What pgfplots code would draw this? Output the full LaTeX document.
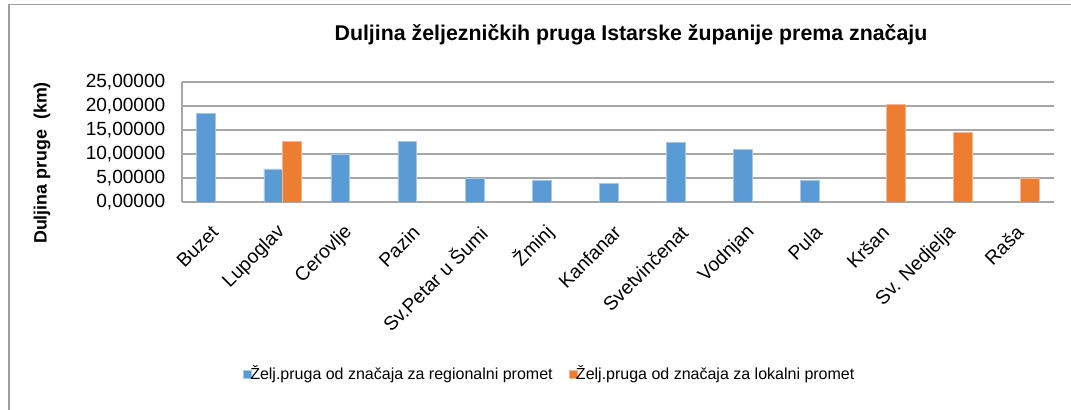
\documentclass[border=0pt]{standalone}
\usepackage{pgfplots}
\pgfplotsset{compat=1.18}
\usepackage{fontspec}
\setmainfont{Liberation Sans}
\definecolor{barblue}{HTML}{5B9BD5}
\definecolor{barorange}{HTML}{ED7D31}
\definecolor{gridgray}{HTML}{A6A6A6}
\definecolor{framegray}{HTML}{A0A0A0}

\begin{document}
\begin{tikzpicture}
% page = 1071 x 410 px at 0.75pt/px
\useasboundingbox (0pt,0pt) rectangle (803.25pt,307.5pt);
\draw[framegray,line width=1.1pt] (6.75pt,0pt) -- (6.75pt,304.1pt) -- (803.25pt,304.1pt);
\node[font=\fontsize{16}{19}\selectfont\bfseries] at (473.25pt,281.25pt) {Duljina željezničkih pruga Istarske županije prema značaju};
\node[font=\fontsize{13.4}{16}\selectfont\bfseries,rotate=90] at (31.5pt,185.25pt) {Duljina pruge~~(km)};
\begin{axis}[
  at={(136.5pt,156pt)},anchor=south west,
  scale only axis,width=654pt,height=90pt,
  ybar=0pt,bar width=0.28,
  xmin=-0.5,xmax=12.5,ymin=0,ymax=25,
  xtick={0,...,12},
  xticklabels={Buzet,Lupoglav,Cerovlje,Pazin,Sv.Petar u Šumi,Žminj,Kanfanar,Svetvinčenat,Vodnjan,Pula,Kršan,Sv. Nedjelja,Raša},
  ytick={0,5,10,15,20,25},
  axis x line*=bottom,axis y line*=left,
  axis line style={gridgray,line width=0.9pt,-},
  ymajorgrids,grid style={gridgray,line width=0.9pt},
  major tick length=0pt,
  xticklabel style={font=\fontsize{14.5}{17}\selectfont,xshift=2pt,yshift=-18pt,rotate=45,anchor=east},
  yticklabel style={font=\fontsize{14.3}{17}\selectfont,xshift=-9pt,/pgf/number format/.cd,fixed,fixed zerofill,precision=5,use comma,1000 sep={},assume math mode=true},
  legend style={at={(0.422,-1.433)},anchor=center,draw=none,legend columns=2,font=\fontsize{12}{14}\selectfont,
    /tikz/every even column/.append style={column sep=10pt},/tikz/every odd column/.append style={column sep=-3pt}},
  legend image code/.code={\fill[#1] (0pt,-3pt) rectangle (6pt,3pt);},
]
\addplot[fill=barblue,draw=barblue!55!white,line width=0.5pt] coordinates {
(0,18.5) (1,6.9) (2,10.0) (3,12.6) (4,5.0) (5,4.6) (6,3.8) (7,12.4) (8,11.0) (9,4.6)};
\addplot[fill=barorange,draw=barorange!55!white,line width=0.5pt] coordinates {
(1,12.6) (10,20.35) (11,14.5) (12,4.9)};
\legend{Želj.pruga od značaja za regionalni promet,Želj.pruga od značaja za lokalni promet}
\end{axis}
\end{tikzpicture}
\end{document}
